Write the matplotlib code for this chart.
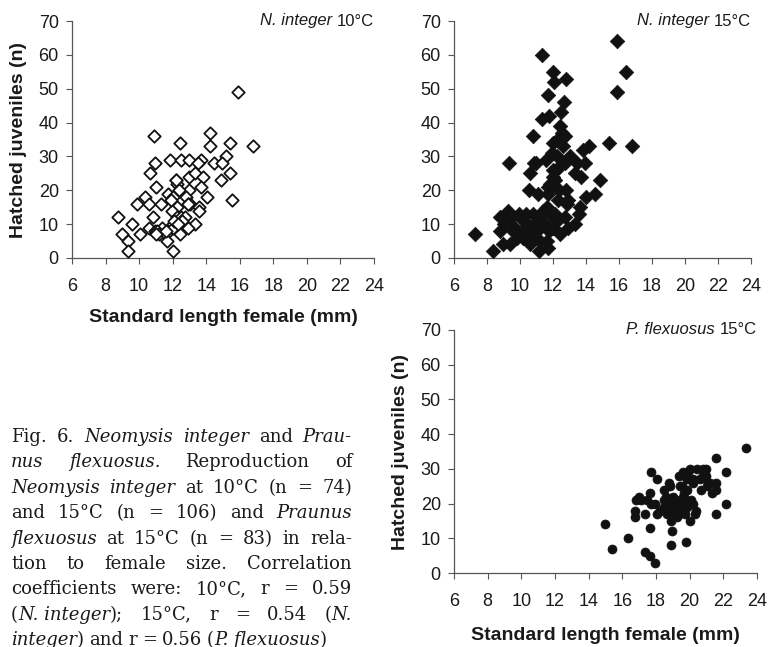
import matplotlib
matplotlib.use("Agg")
import matplotlib.pyplot as plt
import numpy as np

# ---------------- data ----------------
# N. integer 10°C (open diamonds)
ni10_len = [15.92, 10.89, 14.21, 12.46, 14.21, 15.42, 16.76, 15.18, 11.84, 12.50,
            13.00, 13.71, 13.49, 10.97, 14.45, 14.93, 10.65, 13.00, 13.32, 13.79,
            15.44, 14.91, 12.20, 12.24, 11.03, 13.00, 13.67, 12.38, 11.71, 12.02,
            12.78, 14.05, 10.33, 15.56, 9.90, 10.57, 11.31, 12.94, 13.02, 12.24,
            13.59, 13.59, 11.96, 8.72, 10.85, 12.24, 12.48, 12.76, 9.60, 13.32,
            10.57, 11.39, 12.04, 12.90, 12.00, 8.98, 10.06, 10.93, 11.09, 11.19,
            11.59, 12.44, 9.36, 11.69, 9.34, 12.02, 12.20, 11.90, 12.55, 12.90,
            11.00, 11.60, 12.10, 12.30]
ni10_juv = [49, 36, 37, 34, 33, 34, 33, 30, 29, 29,
            29, 29, 28, 28, 28, 28, 25, 24, 25, 24,
            25, 23, 23, 22, 21, 20, 21, 20, 19, 18,
            18, 18, 18, 17, 16, 16, 16, 16, 16, 15,
            15, 14, 14, 12, 12, 12, 12, 12, 10, 10,
            9, 9, 10, 9, 9, 7, 7, 8, 8, 7,
            7, 7, 5, 5, 2, 2, 23, 17, 11, 16,
            7, 8, 11, 10]

# N. integer 15°C (filled diamonds)
ni15_len = [15.86, 11.35, 16.42, 11.98, 12.04, 12.77, 15.86, 11.70, 12.69, 12.46,
            11.35, 11.76, 12.42, 12.53, 12.73, 12.26, 12.02, 10.81, 15.41, 16.77,
            14.16, 13.80, 11.96, 12.22, 13.03, 12.83, 12.71, 9.35, 10.87, 10.97,
            13.45, 13.96, 11.98, 10.61, 13.35, 13.72, 14.85, 12.14, 11.84, 11.70,
            12.38, 10.53, 11.07, 11.70, 14.02, 14.57, 12.85, 11.66, 13.64, 13.60,
            9.27, 8.79, 9.92, 10.36, 10.81, 11.82, 12.14, 12.71, 12.22, 11.30,
            10.00, 9.03, 9.31, 10.40, 11.41, 12.89, 13.33, 8.79, 9.56, 9.92,
            10.53, 10.89, 11.21, 11.74, 12.42, 7.29, 8.99, 9.39, 10.20, 10.61,
            11.21, 11.62, 11.72, 11.13, 8.34, 9.68, 10.24, 9.19, 11.01, 10.81,
            12.02, 11.55, 12.35, 12.60, 12.90, 11.90, 10.10, 9.80, 11.40, 12.30,
            12.00, 11.50, 12.20, 10.70, 9.50, 12.80]
ni15_juv = [64, 60, 55, 55, 52, 53, 49, 48, 46, 43,
            41, 42, 39, 37, 36, 35, 34, 36, 34, 33,
            33, 32, 31, 30, 30, 29, 28, 28, 28, 28,
            28, 28, 26, 25, 25, 24, 23, 23, 22, 21,
            20, 20, 19, 19, 18, 19, 16, 15, 15, 13,
            14, 12, 13, 13, 13, 13, 13, 12, 11, 11,
            12, 10, 10, 10, 10, 9, 10, 8, 8, 7,
            8, 8, 9, 8, 7, 7, 4, 4, 6, 4,
            5, 5, 3, 2, 2, 9, 11, 11, 11, 6,
            9, 29, 27, 33, 17, 21, 8, 6, 14, 17,
            24, 10, 26, 6, 12, 20]

# P. flexuosus 15°C (filled circles)
pf15_len = [23.33, 21.56, 22.18, 17.70, 20.79, 20.95, 20.42, 20.02, 19.60, 19.37,
            19.82, 20.22, 20.95, 18.08, 18.79, 18.50, 19.43, 19.82, 20.65, 21.20,
            21.54, 21.56, 21.33, 22.18, 21.54, 17.64, 16.81, 17.11, 17.68, 17.96,
            16.75, 16.75, 17.37, 18.08, 18.48, 18.63, 18.89, 19.03, 18.89, 19.23,
            19.47, 19.58, 19.78, 19.86, 20.22, 20.32, 20.02, 19.43, 19.13, 18.46,
            14.95, 17.64, 18.97, 16.32, 15.41, 19.78, 18.89, 17.37, 17.64, 17.94,
            20.81, 21.01, 20.61, 19.03, 19.27, 18.73, 18.24, 19.39, 19.72, 20.10,
            19.92, 19.72, 18.83, 17.45, 16.99, 20.18, 21.11, 19.54, 19.19, 19.90,
            18.60, 19.65, 20.40]
pf15_juv = [36, 33, 29, 29, 30, 30, 30, 30, 29, 28,
            27, 27, 28, 27, 26, 24, 25, 24, 24, 26,
            26, 24, 23, 20, 17, 23, 21, 21, 20, 20,
            18, 16, 17, 17, 21, 17, 20, 17, 15, 16,
            20, 22, 21, 19, 20, 17, 15, 19, 19, 19,
            14, 13, 12, 10, 7, 9, 8, 6, 5, 3,
            28, 25, 27, 22, 20, 19, 18, 17, 17, 21,
            29, 28, 25, 21, 22, 26, 26, 25, 21, 20,
            22, 23, 18]

x_ticks = [6, 8, 10, 12, 14, 16, 18, 20, 22, 24]
y_ticks = [0, 10, 20, 30, 40, 50, 60, 70]

# ---------------- figure ----------------
plt.rcParams['font.family'] = ['Liberation Sans', 'DejaVu Sans']
W, H = 782, 647
fig = plt.figure(figsize=(W / 100, H / 100), dpi=100)
fig.patch.set_facecolor('white')

axis_col = '#555555'
txt_col = '#1a1a1a'


def px_axes(l, r, b, t):
    return fig.add_axes([l / W, 1 - b / H, (r - l) / W, (b - t) / H])


def style(ax):
    ax.set_xlim(6, 24)
    ax.set_ylim(0, 70)
    ax.set_xticks(x_ticks)
    ax.set_yticks(y_ticks)
    for s in ['top', 'right']:
        ax.spines[s].set_visible(False)
    for s in ['left', 'bottom']:
        ax.spines[s].set_color(axis_col)
        ax.spines[s].set_linewidth(0.9)
    ax.tick_params(direction='out', length=4.5, width=0.8, color=axis_col,
                   labelsize=13, labelcolor=txt_col)
    ax.tick_params(axis='y', pad=5)
    ax.tick_params(axis='x', pad=10)
    ax.set_facecolor('none')


ax1 = px_axes(72, 374, 258, 21)
ax2 = px_axes(454, 751, 258, 21)
ax3 = px_axes(454, 757, 573, 330)
for ax in (ax1, ax2, ax3):
    style(ax)

ax1.scatter(ni10_len, ni10_juv, marker='D', s=40, facecolors='white',
            edgecolors='#111111', linewidths=1.3, clip_on=False, zorder=3)
ax2.scatter(ni15_len, ni15_juv, marker='D', s=55, facecolors='#111111',
            edgecolors='#111111', linewidths=0.5, clip_on=False, zorder=3)
ax3.scatter(pf15_len, pf15_juv, marker='o', s=42, facecolors='#111111',
            edgecolors='#111111', linewidths=0.5, clip_on=False, zorder=3)

lab_kw = dict(fontsize=14, fontweight='bold', color=txt_col)
ax1.set_ylabel('Hatched juveniles (n)', labelpad=8, **lab_kw)
ax3.set_ylabel('Hatched juveniles (n)', labelpad=8, **lab_kw)
ax1.set_xlabel('Standard length female (mm)', labelpad=10, **lab_kw)
ax3.set_xlabel('Standard length female (mm)', labelpad=12, **lab_kw)


def panel_title(ax, species, temp):
    t = ax.annotate(temp, xy=(1.0, 1.0), xycoords='axes fraction',
                    ha='right', va='center', fontsize=12, color=txt_col)
    ax.annotate(species + ' ', xy=(0, 0.5), xycoords=t, ha='right', va='center',
                fontsize=12, style='italic', color=txt_col)


panel_title(ax1, 'N. integer', '10°C')
panel_title(ax2, 'N. integer', '15°C')
panel_title(ax3, 'P. flexuosus', '15°C')

# ---------------- caption (justified) ----------------
cap_lines = [
    [("Fig.", 0), ("6.", 0), ("Neomysis", 1), ("integer", 1), ("and", 0), ("Prau-", 1)],
    [("nus", 1), ("flexuosus.", 1), ("Reproduction", 0), ("of", 0)],
    [("Neomysis", 1), ("integer", 1), ("at", 0), ("10°C", 0), ("(n", 0), ("=", 0), ("74)", 0)],
    [("and", 0), ("15°C", 0), ("(n", 0), ("=", 0), ("106)", 0), ("and", 0), ("Praunus", 1)],
    [("flexuosus", 1), ("at", 0), ("15°C", 0), ("(n", 0), ("=", 0), ("83)", 0), ("in", 0), ("rela-", 0)],
    [("tion", 0), ("to", 0), ("female", 0), ("size.", 0), ("Correlation", 0)],
    [("coefficients", 0), ("were:", 0), ("10°C,", 0), ("r", 0), ("=", 0), ("0.59", 0)],
    [("(", 0, "N. integer", 1, ");", 0), ("15°C,", 0), ("r", 0), ("=", 0), ("0.54", 0), ("(", 0, "N.", 1)],
    [("integer", 1, ")", 0), ("and", 0), ("r", 0), ("=", 0), ("0.56", 0), ("(", 0, "P. flexuosus", 1, ")", 0)],
]
cap_left, cap_right = 11, 352
cap_y0, cap_dy = 437, 25.4
cap_fs = 13.0
cap_family = ['DejaVu Serif']
renderer = fig.canvas.get_renderer()


def make_word(parts, y):
    arts, ws = [], []
    for i in range(0, len(parts), 2):
        s, it = parts[i], parts[i + 1]
        t = fig.text(0, 1 - y / H, s, fontsize=cap_fs, family=cap_family,
                     style='italic' if it else 'normal', color=txt_col,
                     ha='left', va='center')
        arts.append(t)
        ws.append(t.get_window_extent(renderer).width)
    return arts, ws


for li, line in enumerate(cap_lines):
    y = cap_y0 + li * cap_dy
    words = [make_word(parts, y) for parts in line]
    widths = [sum(ws) for _, ws in words]
    last = li == len(cap_lines) - 1
    n = len(line)
    if n > 1 and not last:
        gap = (cap_right - cap_left - sum(widths)) / (n - 1)
    else:
        gap = 5.0
    gap = max(gap, 2.5)
    x = cap_left
    for (arts, ws), w in zip(words, widths):
        xx = x
        for a, aw in zip(arts, ws):
            a.set_x(xx / W)
            xx += aw
        x += w + gap

fig.savefig('out.png', dpi=100, facecolor='white')
